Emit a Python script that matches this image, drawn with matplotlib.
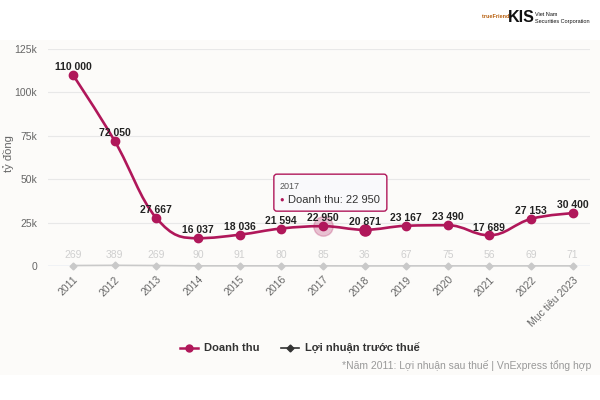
import numpy as np
import matplotlib.pyplot as plt
from matplotlib.path import Path
from matplotlib.patches import PathPatch, Rectangle, FancyBboxPatch
from matplotlib.lines import Line2D
from matplotlib.transforms import IdentityTransform

plt.rcParams['font.family'] = ['Liberation Sans', 'DejaVu Sans']

# dati
nam = ['2011', '2012', '2013', '2014', '2015', '2016', '2017', '2018',
       '2019', '2020', '2021', '2022', 'Mục tiêu 2023']
doanh_thu = [110000, 72050, 27667, 16037, 18036, 21594, 22950, 20871,
             23167, 23490, 17689, 27153, 30400]
loi_nhuan = [269, 389, 269, 90, 91, 80, 85, 36, 67, 75, 56, 69, 71]
y_ticks = [0, 25000, 50000, 75000, 100000, 125000]
y_tick_labels = ['0', '25k', '50k', '75k', '100k', '125k']

mau_dt = '#b0175a'
mau_ln = '#c9c9c9'


def fmt(v):
    return f'{v:,}'.replace(',', ' ')


def spline_path(xs, ys, smoothing=1.5):
    # curva tipo highcharts spline
    n = len(xs)
    denom = smoothing + 1
    left = [(xs[i], ys[i]) for i in range(n)]
    right = [(xs[i], ys[i]) for i in range(n)]
    for i in range(1, n - 1):
        px, py = xs[i - 1], ys[i - 1]
        nx, ny = xs[i + 1], ys[i + 1]
        x, y = xs[i], ys[i]
        lcx = (smoothing * x + px) / denom
        lcy = (smoothing * y + py) / denom
        rcx = (smoothing * x + nx) / denom
        rcy = (smoothing * y + ny) / denom
        if rcx != lcx:
            corr = (rcy - lcy) * (rcx - x) / (rcx - lcx) + y - rcy
            lcy += corr
            rcy += corr
        if lcy > py and lcy > y:
            lcy = max(py, y)
            rcy = 2 * y - lcy
        elif lcy < py and lcy < y:
            lcy = min(py, y)
            rcy = 2 * y - lcy
        if rcy > ny and rcy > y:
            rcy = max(ny, y)
            lcy = 2 * y - rcy
        elif rcy < ny and rcy < y:
            rcy = min(ny, y)
            lcy = 2 * y - rcy
        left[i] = (lcx, lcy)
        right[i] = (rcx, rcy)
    verts = [(xs[0], ys[0])]
    codes = [Path.MOVETO]
    for i in range(1, n):
        verts += [right[i - 1], left[i], (xs[i], ys[i])]
        codes += [Path.CURVE4] * 3
    return Path(verts, codes)


fig = plt.figure(figsize=(6, 4), dpi=100)
fig.patches.append(Rectangle((0, 0.0625), 1, 0.8375, transform=fig.transFigure,
                             facecolor='#fcfbf9', edgecolor='none', zorder=-10))

ax = fig.add_axes([0.08, 0.335, 0.903, 0.5425])
ax.set_facecolor('none')
x = np.arange(len(nam))
ax.set_xlim(-0.6, len(nam) - 1 + 0.41)
ax.set_ylim(0, 125000)

ax.set_yticks(y_ticks)
ax.set_yticklabels(y_tick_labels, color='#666666', fontsize=7.5)
ax.grid(axis='y', color='#e8e8e8', linewidth=0.8)
ax.set_axisbelow(True)
for s in ax.spines.values():
    s.set_visible(False)
ax.axhline(0, color='#ccd6eb', linewidth=1, zorder=1)
ax.tick_params(axis='y', length=0, pad=8)
ax.tick_params(axis='x', length=0, pad=6)
ax.set_xticks(x)
ax.set_xticklabels(nam, rotation=45, ha='right', rotation_mode='anchor',
                   color='#666666', fontsize=7.5)
ax.set_ylabel('tỷ đồng', color='#666666', fontsize=8)
ax.yaxis.set_label_coords(-0.062, 0.52)

# loi nhuan
ax.plot(x, loi_nhuan, color=mau_ln, linewidth=1.2, marker='D', markersize=3.5,
        clip_on=False, zorder=3)
for xi, v in zip(x, loi_nhuan):
    ax.annotate(str(v), (xi, v), xytext=(0, 4), textcoords='offset points',
                ha='center', va='bottom', fontsize=7.5, color='#cfcfcf')

# doanh thu
ax.add_patch(PathPatch(spline_path(list(x), doanh_thu), facecolor='none',
                       edgecolor=mau_dt, linewidth=1.9, zorder=4))
ax.plot(x, doanh_thu, linestyle='none', marker='o', markersize=6,
        color=mau_dt, zorder=5, clip_on=False)
ax.plot(x[6], doanh_thu[6], marker='o', markersize=14, color=mau_dt,
        alpha=0.25, zorder=4)
ax.plot(x[7], doanh_thu[7], marker='o', markersize=8, color=mau_dt, zorder=5)
for xi, v in zip(x, doanh_thu):
    ax.annotate(fmt(v), (xi, v), xytext=(0, 2), textcoords='offset points',
                ha='center', va='bottom', fontsize=7.5, fontweight='bold',
                color='#222222', zorder=6)

# tooltip 2017 (in pixel, ancorato al punto)
i = 6
px, py = ax.transData.transform((x[i], doanh_thu[i]))
pix = IdentityTransform()
fig.patches.append(FancyBboxPatch((px - 49, py + 15), 113, 37,
                                  boxstyle='round,pad=0,rounding_size=3',
                                  facecolor='#f9f9fb', edgecolor=mau_dt,
                                  linewidth=1, transform=pix, zorder=20))
fig.text(px - 43, py + 40, '2017', transform=pix, ha='left', va='center',
         fontsize=6.5, color='#555555', zorder=21)
fig.text(px - 43, py + 26, '\u25cf', transform=pix, ha='left', va='center',
         fontsize=5.5, color=mau_dt, zorder=21)
fig.text(px - 35, py + 26, 'Doanh thu: 22 950', transform=pix, ha='left',
         va='center', fontsize=8, color='#333333', zorder=21)

# legenda
handles = [Line2D([], [], color=mau_dt, marker='o', markersize=5, linewidth=1.8),
           Line2D([], [], color='#333333', marker='D', markersize=3.5, linewidth=1.2)]
fig.legend(handles, ['Doanh thu', 'Lợi nhuận trước thuế'], loc='center',
           bbox_to_anchor=(0.5, 0.13), ncol=2, frameon=False,
           prop={'size': 8, 'weight': 'bold'},
           handlelength=1.6, columnspacing=2.0, handletextpad=0.5,
           labelcolor='#333333')
fig.text(0.985, 0.087, '*Năm 2011: Lợi nhuận sau thuế | VnExpress tổng hợp',
         ha='right', va='center', fontsize=7.5, color='#999999')

# logo
fig.text(0.803, 0.96, 'trueFriend', fontsize=4, color='#b8600f', ha='left',
         va='center', fontweight='bold')
fig.text(0.847, 0.955, 'KIS', fontsize=11.5, fontweight='bold', color='#111111',
         ha='left', va='center')
fig.text(0.891, 0.963, 'Viet Nam', fontsize=4, color='#111111', ha='left', va='center')
fig.text(0.891, 0.945, 'Securities Corporation', fontsize=4, color='#111111',
         ha='left', va='center')

fig.savefig('out.png', dpi=100)
